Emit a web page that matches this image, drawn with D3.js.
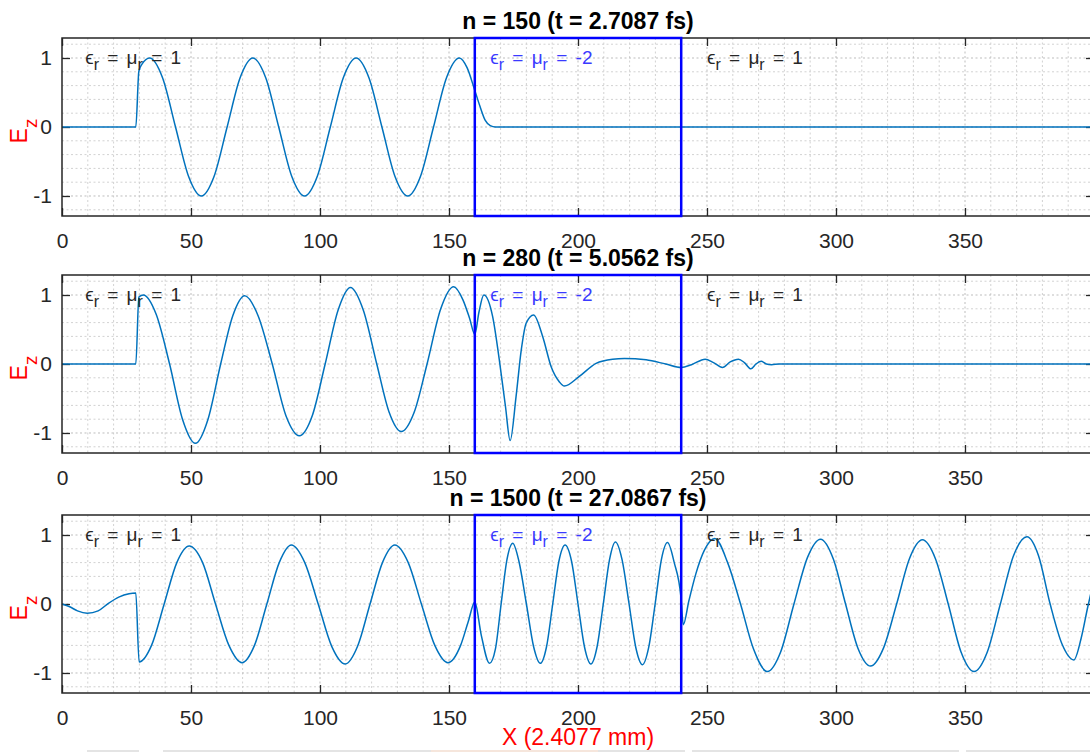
<!DOCTYPE html>
<html lang="en">
<head>
<meta charset="utf-8">
<title>Ez snapshots</title>
<script src="https://d3js.org/d3.v7.min.js"></script>
<style>
  body { margin: 0; background: #fff; }
  svg { display: block; font-family: "Liberation Sans", Arial, Helvetica, sans-serif; }
  .tick text { fill: #262626; font-size: 21px; }
  .tick line { stroke: #262626; stroke-width: 1.3; }
</style>
</head>
<body>
<div id="viz"></div>
<script>
// ---- data ----
const titles = ["n = 150 (t = 2.7087 fs)", "n = 280 (t = 5.0562 fs)", "n = 1500 (t = 27.0867 fs)"];
const xTicks = [0, 50, 100, 150, 200, 250, 300, 350];
const yTicks = [-1, 0, 1];
const slab = [160, 240];           // eps = mu = -2 region
const labelX = [9, 166, 250];      // where the material labels start
const labelVal = ["1", "-2", "1"];

const p1x = [0, 28.6, 29.8, 31, 34, 39, 44, 49, 54, 59, 64, 69, 74, 79, 84, 89, 94, 99, 104, 109, 114, 119, 124, 129, 134, 139, 144, 149, 154, 157, 160, 162, 164, 166, 168, 200, 250, 300, 350, 400];
const p1y = [0, 0, 0.81, 0.91, 1.0, 0.71, 0, -0.71, -1.0, -0.71, 0, 0.71, 1.0, 0.71, 0, -0.71, -1.0, -0.71, 0, 0.71, 1.0, 0.71, 0, -0.71, -1.0, -0.71, 0, 0.71, 1.0, 0.86, 0.53, 0.3, 0.1, 0.02, 0, 0, 0, 0, 0, 0];

const p2x = [0, 28.6, 29.8, 31.5, 36.5, 41.7, 46.7, 51.7, 56.6, 61.5, 66.2, 70.8, 76, 81.5, 86.8, 92, 97, 102, 107, 111.8, 116.8, 122, 126.8, 131.5, 136.5, 141.5, 146.8, 151.8, 155.4, 158, 160, 161.6, 163.5, 166.9, 169.5, 171.9, 173.7, 176, 178, 179.9, 182.8, 186.3, 189.6, 192.8, 194.7, 200.5, 207, 213.4, 218, 226.4, 234, 240, 244, 249.3, 252.5, 256, 259, 262.2, 264.5, 267, 269, 271, 273, 275, 278, 300, 350, 400];
const p2y = [0, 0, 0.97, 1.0, 0.72, 0, -0.8, -1.15, -0.8, 0, 0.7, 0.99, 0.7, 0, -0.75, -1.04, -0.75, 0, 0.78, 1.11, 0.78, 0, -0.7, -0.98, -0.7, 0, 0.8, 1.12, 0.93, 0.66, 0.43, 0.75, 1.0, 0.69, 0.06, -0.62, -1.11, -0.47, 0.2, 0.59, 0.71, 0.4, -0.04, -0.26, -0.32, -0.18, 0.01, 0.07, 0.08, 0.06, 0.0, -0.05, -0.01, 0.07, 0.02, -0.05, 0.03, 0.07, 0.02, -0.07, 0.0, 0.04, 0.0, -0.01, 0, 0, 0, 0];

const p3x = [0, 3, 6, 9.8, 14, 18, 22, 26, 28.6, 29.9, 34.7, 39.6, 44.5, 49.3, 54.5, 59.5, 64.7, 69.8, 74.6, 79.4, 84.2, 88.9, 94.1, 99.3, 104.5, 109.8, 114.6, 119.4, 124.2, 129, 134.2, 139.3, 144.5, 149.6, 154.5, 157.5, 160, 162.5, 165.7, 168, 170.2, 172.5, 174.7, 177.1, 180, 182.8, 185.4, 187.8, 190.2, 192.6, 195, 197.5, 200, 202.5, 205, 207.4, 209.8, 212.2, 214.5, 217.1, 219.8, 222.4, 225, 227.4, 229.9, 232.3, 234.7, 237.3, 239.9, 240.8, 243, 245.7, 249, 253, 258, 263, 268, 273.4, 278.5, 283.7, 289, 294, 299, 303.7, 308.5, 313.4, 318.4, 323.5, 328.5, 333.5, 338.5, 343.5, 348.5, 353.5, 358.6, 363.7, 368.8, 374, 378.5, 383, 387.6, 392.2, 395, 397.6, 400];
const p3y = [0, -0.04, -0.1, -0.135, -0.1, 0.01, 0.1, 0.15, 0.16, -0.84, -0.6, 0, 0.6, 0.84, 0.6, 0, -0.6, -0.85, -0.6, 0, 0.6, 0.855, 0.6, 0, -0.61, -0.87, -0.61, 0, 0.6, 0.855, 0.6, 0, -0.6, -0.85, -0.6, -0.25, 0.03, -0.45, -0.86, -0.65, 0, 0.65, 0.88, 0.62, 0, -0.62, -0.86, -0.62, 0, 0.62, 0.855, 0.62, 0, -0.62, -0.87, -0.62, 0, 0.64, 0.9, 0.64, 0, -0.63, -0.88, -0.63, 0, 0.64, 0.89, 0.6, 0.1, -0.3, 0.05, 0.44, 0.78, 0.95, 0.6, 0, -0.65, -0.98, -0.7, 0, 0.68, 0.94, 0.65, 0, -0.64, -0.9, -0.64, 0, 0.66, 0.93, 0.66, 0, -0.7, -0.98, -0.7, 0, 0.7, 0.975, 0.7, 0, -0.58, -0.81, -0.5, -0.04, 0.35];

const series = [[p1x, p1y], [p2x, p2y], [p3x, p3y]];

// ---- layout ----
const W = 1090, H = 755;
const left = 62, right = 1094;
const tops = [38, 275, 515];
const ph = 178;

const svg = d3.select("#viz").append("svg")
    .attr("width", W).attr("height", H);

const x = d3.scaleLinear().domain([0, 400]).range([left, right]);

series.forEach(function(s, i) {
    const top = tops[i];
    const y = d3.scaleLinear().domain([-1.29, 1.29]).range([top + ph, top]);
    const g = svg.append("g");

    // minor + major grid (dotted, as in the figure)
    g.append("g").selectAll("line")
        .data(d3.range(10, 400, 10))
        .enter().append("line")
          .attr("x1", d => x(d)).attr("x2", d => x(d))
          .attr("y1", top).attr("y2", top + ph)
          .attr("stroke", d => d % 50 === 0 ? "#bdbdbd" : "#d2d2d2")
          .attr("stroke-width", 1)
          .attr("stroke-dasharray", "2,2.5");
    g.append("g").selectAll("line")
        .data(d3.range(-12, 13, 2).map(v => v / 10))
        .enter().append("line")
          .attr("x1", left).attr("x2", right)
          .attr("y1", d => y(d)).attr("y2", d => y(d))
          .attr("stroke", d => Math.abs(d % 1) < 1e-9 ? "#bdbdbd" : "#d2d2d2")
          .attr("stroke-width", 1)
          .attr("stroke-dasharray", "2,2.5");

    // axes (ticks point inward)
    const ax = [
      g.append("g").attr("transform", `translate(0,${top + ph})`)
        .call(d3.axisBottom(x).tickValues(xTicks).tickSize(-8).tickPadding(17)),
      g.append("g").attr("transform", `translate(0,${top})`)
        .call(d3.axisTop(x).tickValues(xTicks).tickSize(-8).tickFormat("")),
      g.append("g").attr("transform", `translate(${left},0)`)
        .call(d3.axisLeft(y).tickValues(yTicks).tickSize(-8).tickPadding(10).tickFormat(d => String(d))),
      g.append("g").attr("transform", `translate(${right},0)`)
        .call(d3.axisRight(y).tickValues(yTicks).tickSize(-8).tickFormat(""))
    ];
    ax.forEach(a => a.select(".domain").remove());

    // the field
    const pts = s[0].map((v, k) => [v, s[1][k]]);
    g.append("path")
        .datum(pts)
        .attr("fill", "none")
        .attr("stroke", "#0072BD")
        .attr("stroke-width", 1.5)
        .attr("d", d3.line().x(d => x(d[0])).y(d => y(d[1])).curve(d3.curveMonotoneX));

    // box
    g.append("rect")
        .attr("x", left).attr("y", top)
        .attr("width", right - left).attr("height", ph)
        .attr("fill", "none").attr("stroke", "#262626").attr("stroke-width", 1.5);

    // slab outline
    g.append("rect")
        .attr("x", x(slab[0])).attr("y", y(1.29))
        .attr("width", x(slab[1]) - x(slab[0])).attr("height", y(-1.29) - y(1.29))
        .attr("fill", "none").attr("stroke", "#0000FF").attr("stroke-width", 2.5);

    // material labels
    labelX.forEach(function(lx, k) {
        const t = g.append("text")
            .attr("x", x(lx)).attr("y", y(1) + 6)
            .attr("font-size", 19)
            .attr("word-spacing", 3)
            .attr("fill", k === 1 ? "#3a3aff" : "#262626");
        t.append("tspan").text("\u03F5");
        t.append("tspan").attr("dy", 6).attr("font-size", 16).text("r");
        t.append("tspan").attr("dy", -6).text(" = \u03BC");
        t.append("tspan").attr("dy", 6).attr("font-size", 16).text("r");
        t.append("tspan").attr("dy", -6).text(" = " + labelVal[k]);
    });

    // title
    g.append("text")
        .attr("x", (left + right) / 2).attr("y", top - 9)
        .attr("text-anchor", "middle")
        .attr("font-size", 23).attr("font-weight", "bold")
        .attr("fill", "#000")
        .text(titles[i]);

    // y label  E_z
    const yl = g.append("text")
        .attr("transform", `translate(27,${top + ph / 2 + 4}) rotate(-90)`)
        .attr("text-anchor", "middle")
        .attr("font-size", 23)
        .attr("fill", "#FF0000");
    yl.append("tspan").text("E");
    yl.append("tspan").attr("dy", 10).attr("font-size", 19).text("z");
});

// x label
svg.append("text")
    .attr("x", (left + right) / 2).attr("y", 745)
    .attr("text-anchor", "middle")
    .attr("font-size", 23)
    .attr("fill", "#FF0000")
    .text("X (2.4077 mm)");

// faint strip along the bottom edge of the figure
const strip = [[87, 139], [163, 431], [431, 598], [598, 685], [692, 959], [966, 1090]];
svg.append("g").selectAll("rect")
    .data(strip)
    .enter().append("rect")
      .attr("x", d => d[0]).attr("y", 750)
      .attr("width", d => d[1] - d[0]).attr("height", 2)
      .attr("fill", (d, k) => k === 2 ? "#f6e6dc" : "#e4e4e4");
</script>
</body>
</html>
